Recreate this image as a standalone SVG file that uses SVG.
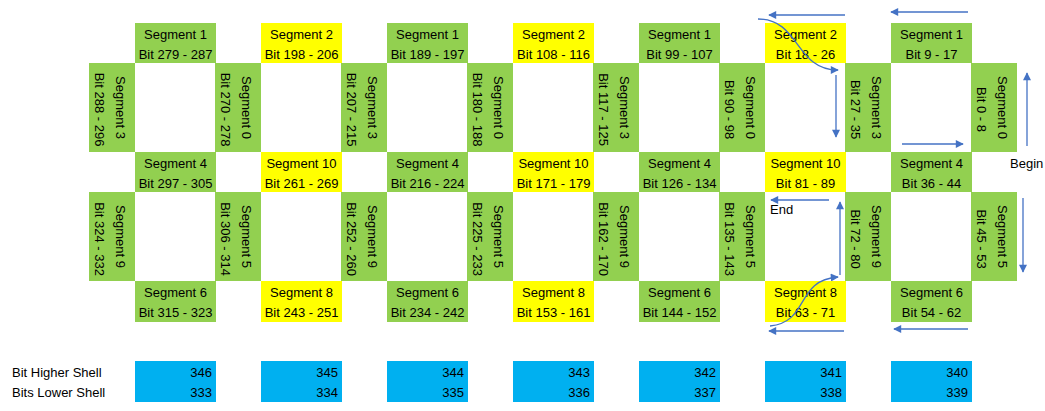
<svg xmlns="http://www.w3.org/2000/svg" width="1045" height="411" viewBox="0 0 1045 411">
<style>
.g{fill:#92D050}
.y{fill:#FFFF00}
.b{fill:#00B0F0}
text{font-family:"Liberation Sans",Arial,sans-serif;font-size:13px;fill:#000}
.c{text-anchor:middle}
.r{text-anchor:end}
.a{fill:none;stroke:#4472C4;stroke-width:1.3;marker-end:url(#ah)}
</style>
<defs>
<marker id="ah" viewBox="0 0 10 10" refX="9" refY="5" markerWidth="10" markerHeight="8" markerUnits="userSpaceOnUse" orient="auto">
<path d="M0,0 L10,5 L0,10 z" fill="#4472C4"/>
</marker>
</defs>
<rect width="1045" height="411" fill="#fff"/>

<!-- Top row -->
<g id="t0"><rect class="g" x="135" y="23" width="81" height="40"/><text class="c" x="175.5" y="39">Segment 1</text><text class="c" x="175.5" y="59">Bit 279 - 287</text></g>
<g id="t1"><rect class="y" x="261" y="23" width="81" height="40"/><text class="c" x="301.5" y="39">Segment 2</text><text class="c" x="301.5" y="59">Bit 198 - 206</text></g>
<g id="t2"><rect class="g" x="387" y="23" width="81" height="40"/><text class="c" x="427.5" y="39">Segment 1</text><text class="c" x="427.5" y="59">Bit 189 - 197</text></g>
<g id="t3"><rect class="y" x="513" y="23" width="81" height="40"/><text class="c" x="553.5" y="39">Segment 2</text><text class="c" x="553.5" y="59">Bit 108 - 116</text></g>
<g id="t4"><rect class="g" x="639" y="23" width="81" height="40"/><text class="c" x="679.5" y="39">Segment 1</text><text class="c" x="679.5" y="59">Bit 99 - 107</text></g>
<g id="t5"><rect class="y" x="765" y="23" width="81" height="40"/><text class="c" x="805.5" y="39">Segment 2</text><text class="c" x="805.5" y="59">Bit 18 - 26</text></g>
<g id="t6"><rect class="g" x="891" y="23" width="81" height="40"/><text class="c" x="931.5" y="39">Segment 1</text><text class="c" x="931.5" y="59">Bit 9 - 17</text></g>

<!-- Upper vertical bars -->
<g id="u0"><rect class="g" x="89" y="63" width="46" height="89"/><text class="c" transform="translate(115.5,107.5) rotate(90)">Segment 3</text><text class="c" transform="translate(95,109.5) rotate(90)">Bit 288 - 296</text></g>
<g id="u1"><rect class="g" x="215" y="63" width="46" height="89"/><text class="c" transform="translate(241.5,107.5) rotate(90)">Segment 0</text><text class="c" transform="translate(221,109.5) rotate(90)">Bit 270 - 278</text></g>
<g id="u2"><rect class="g" x="341" y="63" width="46" height="89"/><text class="c" transform="translate(367.5,107.5) rotate(90)">Segment 3</text><text class="c" transform="translate(347,109.5) rotate(90)">Bit 207 - 215</text></g>
<g id="u3"><rect class="g" x="467" y="63" width="46" height="89"/><text class="c" transform="translate(493.5,107.5) rotate(90)">Segment 0</text><text class="c" transform="translate(473,109.5) rotate(90)">Bit 180 - 188</text></g>
<g id="u4"><rect class="g" x="593" y="63" width="46" height="89"/><text class="c" transform="translate(619.5,107.5) rotate(90)">Segment 3</text><text class="c" transform="translate(599,109.5) rotate(90)">Bit 117 - 125</text></g>
<g id="u5"><rect class="g" x="719" y="63" width="46" height="89"/><text class="c" transform="translate(745.5,107.5) rotate(90)">Segment 0</text><text class="c" transform="translate(725,109.5) rotate(90)">Bit 90 - 98</text></g>
<g id="u6"><rect class="g" x="845" y="63" width="46" height="89"/><text class="c" transform="translate(871.5,107.5) rotate(90)">Segment 3</text><text class="c" transform="translate(851,109.5) rotate(90)">Bit 27 - 35</text></g>
<g id="u7"><rect class="g" x="971" y="63" width="46" height="89"/><text class="c" transform="translate(997.5,107.5) rotate(90)">Segment 0</text><text class="c" transform="translate(977,109.5) rotate(90)">Bit 0 - 8</text></g>

<!-- Middle row -->
<g id="m0"><rect class="g" x="135" y="152" width="81" height="40"/><text class="c" x="175.5" y="168">Segment 4</text><text class="c" x="175.5" y="188">Bit 297 - 305</text></g>
<g id="m1"><rect class="y" x="261" y="152" width="81" height="40"/><text class="c" x="301.5" y="168">Segment 10</text><text class="c" x="301.5" y="188">Bit 261 - 269</text></g>
<g id="m2"><rect class="g" x="387" y="152" width="81" height="40"/><text class="c" x="427.5" y="168">Segment 4</text><text class="c" x="427.5" y="188">Bit 216 - 224</text></g>
<g id="m3"><rect class="y" x="513" y="152" width="81" height="40"/><text class="c" x="553.5" y="168">Segment 10</text><text class="c" x="553.5" y="188">Bit 171 - 179</text></g>
<g id="m4"><rect class="g" x="639" y="152" width="81" height="40"/><text class="c" x="679.5" y="168">Segment 4</text><text class="c" x="679.5" y="188">Bit 126 - 134</text></g>
<g id="m5"><rect class="y" x="765" y="152" width="81" height="40"/><text class="c" x="805.5" y="168">Segment 10</text><text class="c" x="805.5" y="188">Bit 81 - 89</text></g>
<g id="m6"><rect class="g" x="891" y="152" width="81" height="40"/><text class="c" x="931.5" y="168">Segment 4</text><text class="c" x="931.5" y="188">Bit 36 - 44</text></g>

<!-- Lower vertical bars -->
<g id="l0"><rect class="g" x="89" y="192" width="46" height="89"/><text class="c" transform="translate(115.5,236.5) rotate(90)">Segment 9</text><text class="c" transform="translate(95,239) rotate(90)">Bit 324 - 332</text></g>
<g id="l1"><rect class="g" x="215" y="192" width="46" height="89"/><text class="c" transform="translate(241.5,236.5) rotate(90)">Segment 5</text><text class="c" transform="translate(221,239) rotate(90)">Bit 306 - 314</text></g>
<g id="l2"><rect class="g" x="341" y="192" width="46" height="89"/><text class="c" transform="translate(367.5,236.5) rotate(90)">Segment 9</text><text class="c" transform="translate(347,239) rotate(90)">Bit 252 - 260</text></g>
<g id="l3"><rect class="g" x="467" y="192" width="46" height="89"/><text class="c" transform="translate(493.5,236.5) rotate(90)">Segment 5</text><text class="c" transform="translate(473,239) rotate(90)">Bit 225 - 233</text></g>
<g id="l4"><rect class="g" x="593" y="192" width="46" height="89"/><text class="c" transform="translate(619.5,236.5) rotate(90)">Segment 9</text><text class="c" transform="translate(599,239) rotate(90)">Bit 162 - 170</text></g>
<g id="l5"><rect class="g" x="719" y="192" width="46" height="89"/><text class="c" transform="translate(745.5,236.5) rotate(90)">Segment 5</text><text class="c" transform="translate(725,239) rotate(90)">Bit 135 - 143</text></g>
<g id="l6"><rect class="g" x="845" y="192" width="46" height="89"/><text class="c" transform="translate(871.5,236.5) rotate(90)">Segment 9</text><text class="c" transform="translate(851,239) rotate(90)">Bit 72 - 80</text></g>
<g id="l7"><rect class="g" x="971" y="192" width="46" height="89"/><text class="c" transform="translate(997.5,236.5) rotate(90)">Segment 5</text><text class="c" transform="translate(977,239) rotate(90)">Bit 45 - 53</text></g>

<!-- Bottom row -->
<g id="d0"><rect class="g" x="135" y="281" width="81" height="41"/><text class="c" x="175.5" y="297">Segment 6</text><text class="c" x="175.5" y="317">Bit 315 - 323</text></g>
<g id="d1"><rect class="y" x="261" y="281" width="81" height="41"/><text class="c" x="301.5" y="297">Segment 8</text><text class="c" x="301.5" y="317">Bit 243 - 251</text></g>
<g id="d2"><rect class="g" x="387" y="281" width="81" height="41"/><text class="c" x="427.5" y="297">Segment 6</text><text class="c" x="427.5" y="317">Bit 234 - 242</text></g>
<g id="d3"><rect class="y" x="513" y="281" width="81" height="41"/><text class="c" x="553.5" y="297">Segment 8</text><text class="c" x="553.5" y="317">Bit 153 - 161</text></g>
<g id="d4"><rect class="g" x="639" y="281" width="81" height="41"/><text class="c" x="679.5" y="297">Segment 6</text><text class="c" x="679.5" y="317">Bit 144 - 152</text></g>
<g id="d5"><rect class="y" x="765" y="281" width="81" height="41"/><text class="c" x="805.5" y="297">Segment 8</text><text class="c" x="805.5" y="317">Bit 63 - 71</text></g>
<g id="d6"><rect class="g" x="891" y="281" width="81" height="41"/><text class="c" x="931.5" y="297">Segment 6</text><text class="c" x="931.5" y="317">Bit 54 - 62</text></g>

<!-- Shell labels -->
<g id="labels"><text x="12" y="377">Bit Higher Shell</text><text x="12" y="397">Bits Lower Shell</text></g>

<!-- Shell boxes -->
<g id="s0"><rect class="b" x="135" y="361" width="81" height="41"/><text class="r" x="212" y="377">346</text><text class="r" x="212" y="397">333</text></g>
<g id="s1"><rect class="b" x="261" y="361" width="81" height="41"/><text class="r" x="338" y="377">345</text><text class="r" x="338" y="397">334</text></g>
<g id="s2"><rect class="b" x="387" y="361" width="81" height="41"/><text class="r" x="464" y="377">344</text><text class="r" x="464" y="397">335</text></g>
<g id="s3"><rect class="b" x="513" y="361" width="81" height="41"/><text class="r" x="590" y="377">343</text><text class="r" x="590" y="397">336</text></g>
<g id="s4"><rect class="b" x="639" y="361" width="81" height="41"/><text class="r" x="716" y="377">342</text><text class="r" x="716" y="397">337</text></g>
<g id="s5"><rect class="b" x="765" y="361" width="81" height="41"/><text class="r" x="842" y="377">341</text><text class="r" x="842" y="397">338</text></g>
<g id="s6"><rect class="b" x="891" y="361" width="81" height="41"/><text class="r" x="968" y="377">340</text><text class="r" x="968" y="397">339</text></g>

<!-- Path labels -->
<g id="begin"><text x="1010" y="168">Begin</text></g>
<g id="end"><text x="770" y="214">End</text></g>

<!-- Connectors -->
<g id="connectors">
<path class="a" d="M968,12 L891,12"/>
<path class="a" d="M845,15 L769,15"/>
<path class="a" d="M758,19 C800,19 795,70 838,70"/>
<path class="a" d="M836,75 L836,137"/>
<path class="a" d="M902,144 L963,144"/>
<path class="a" d="M1027,146 L1027,73"/>
<path class="a" d="M1023,198 L1023,272"/>
<path class="a" d="M968,329 L894,329"/>
<path class="a" d="M844,331 L769,331"/>
<path class="a" d="M770,326 C810,322 795,280 838,277"/>
<path class="a" d="M840,275 L840,202"/>
<path class="a" d="M829,200 L771,200"/>
</g>
</svg>
